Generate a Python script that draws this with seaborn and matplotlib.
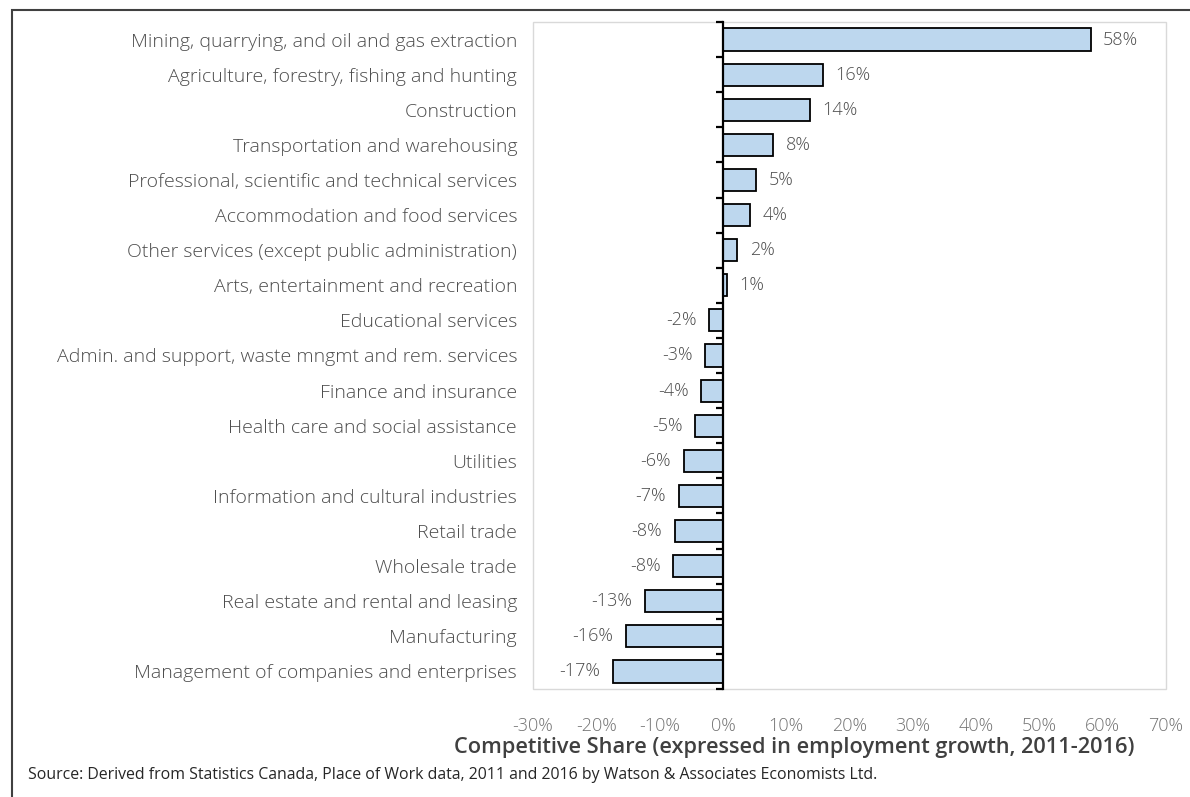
import matplotlib
matplotlib.use("Agg")
import matplotlib.pyplot as plt
import seaborn as sns
import pandas as pd
from matplotlib.patches import Rectangle

categories = [
    "Mining, quarrying, and oil and gas extraction",
    "Agriculture, forestry, fishing and hunting",
    "Construction",
    "Transportation and warehousing",
    "Professional, scientific and technical services",
    "Accommodation and food services",
    "Other services (except public administration)",
    "Arts, entertainment and recreation",
    "Educational services",
    "Admin. and support, waste mngmt and rem. services",
    "Finance and insurance",
    "Health care and social assistance",
    "Utilities",
    "Information and cultural industries",
    "Retail trade",
    "Wholesale trade",
    "Real estate and rental and leasing",
    "Manufacturing",
    "Management of companies and enterprises",
]
values = [58.1, 15.8, 13.7, 7.9, 5.3, 4.3, 2.3, 0.6, -2.2, -2.8, -3.4, -4.4,
          -6.2, -7.0, -7.6, -7.9, -12.3, -15.3, -17.4]
value_labels = ["58%", "16%", "14%", "8%", "5%", "4%", "2%", "1%", "-2%", "-3%",
                "-4%", "-5%", "-6%", "-7%", "-8%", "-8%", "-13%", "-16%", "-17%"]
x_ticks = [-30, -20, -10, 0, 10, 20, 30, 40, 50, 60, 70]
x_tick_labels = [f"{t}%" for t in x_ticks]
x_title = "Competitive Share (expressed in employment growth, 2011-2016)"
source = ("Source: Derived from Statistics Canada, Place of Work data, 2011 and 2016 "
          "by Watson & Associates Economists Ltd.")

sns.set_style("white")
plt.rcParams["font.family"] = ["Open Sans", "DejaVu Sans"]

df = pd.DataFrame({"cat": categories, "val": values})

fig = plt.figure(figsize=(11.9, 7.97), dpi=100)
ax = fig.add_axes([533 / 1190, 1 - 689 / 797, 633 / 1190, 667 / 797])

sns.barplot(data=df, y="cat", x="val", orient="h", color="#bdd7ee",
            width=0.63, edgecolor="black", linewidth=1.3, saturation=1, ax=ax)
for p in ax.patches:
    p.set_facecolor("#bdd7ee")

ax.bar_label(ax.containers[0], labels=value_labels, padding=9,
             fontsize=13, color="#4d4d4d", fontweight="light")

ax.set_xlim(-30, 70)
ax.set_ylim(len(categories) - 0.5, -0.5)
ax.set_xticks(x_ticks)
ax.set_xticklabels(x_tick_labels)
ax.set_xlabel("")
ax.set_ylabel("")
ax.set_yticks(range(len(categories)))
ax.set_yticklabels(categories)

for s in ["top", "bottom", "left"]:
    ax.spines[s].set_visible(False)
ax.spines["right"].set_position(("data", 0))
ax.spines["right"].set_color("black")
ax.spines["right"].set_linewidth(1.6)
ax.spines["right"].set_zorder(5)

ax.set_yticks([i - 0.5 for i in range(len(categories) + 1)], minor=True)
ax.tick_params(axis="y", which="major", left=False, right=False,
               labelleft=True, labelright=False, pad=8,
               labelsize=14, labelcolor="#4d4d4d")
ax.tick_params(axis="y", which="minor", left=False, right=True,
               direction="in", length=5, width=1.6, color="black")
ax.tick_params(axis="x", which="major", bottom=False, length=0, pad=20,
               labelsize=13, labelcolor="#737373")

for lbl in ax.get_yticklabels() + ax.get_xticklabels():
    lbl.set_fontweight("light")

ax.add_patch(Rectangle((0, 0), 1, 1, transform=ax.transAxes, fill=False,
                       edgecolor="#d9d9d9", linewidth=1, clip_on=False, zorder=0))

fig.text(794 / 1190, 1 - 748 / 797, x_title, ha="center", va="center",
         fontsize=15.7, color="#404040", fontweight="semibold")
fig.text(28 / 1190, 1 - 775 / 797, source, ha="left", va="center",
         fontsize=11.4, color="#262626")

fig.add_artist(Rectangle((12 / 1190, -0.1), 1.2, 1 - 10 / 797 + 0.1,
                         transform=fig.transFigure, fill=False,
                         edgecolor="#404040", linewidth=1.5))

fig.savefig("out.png", dpi=100)
